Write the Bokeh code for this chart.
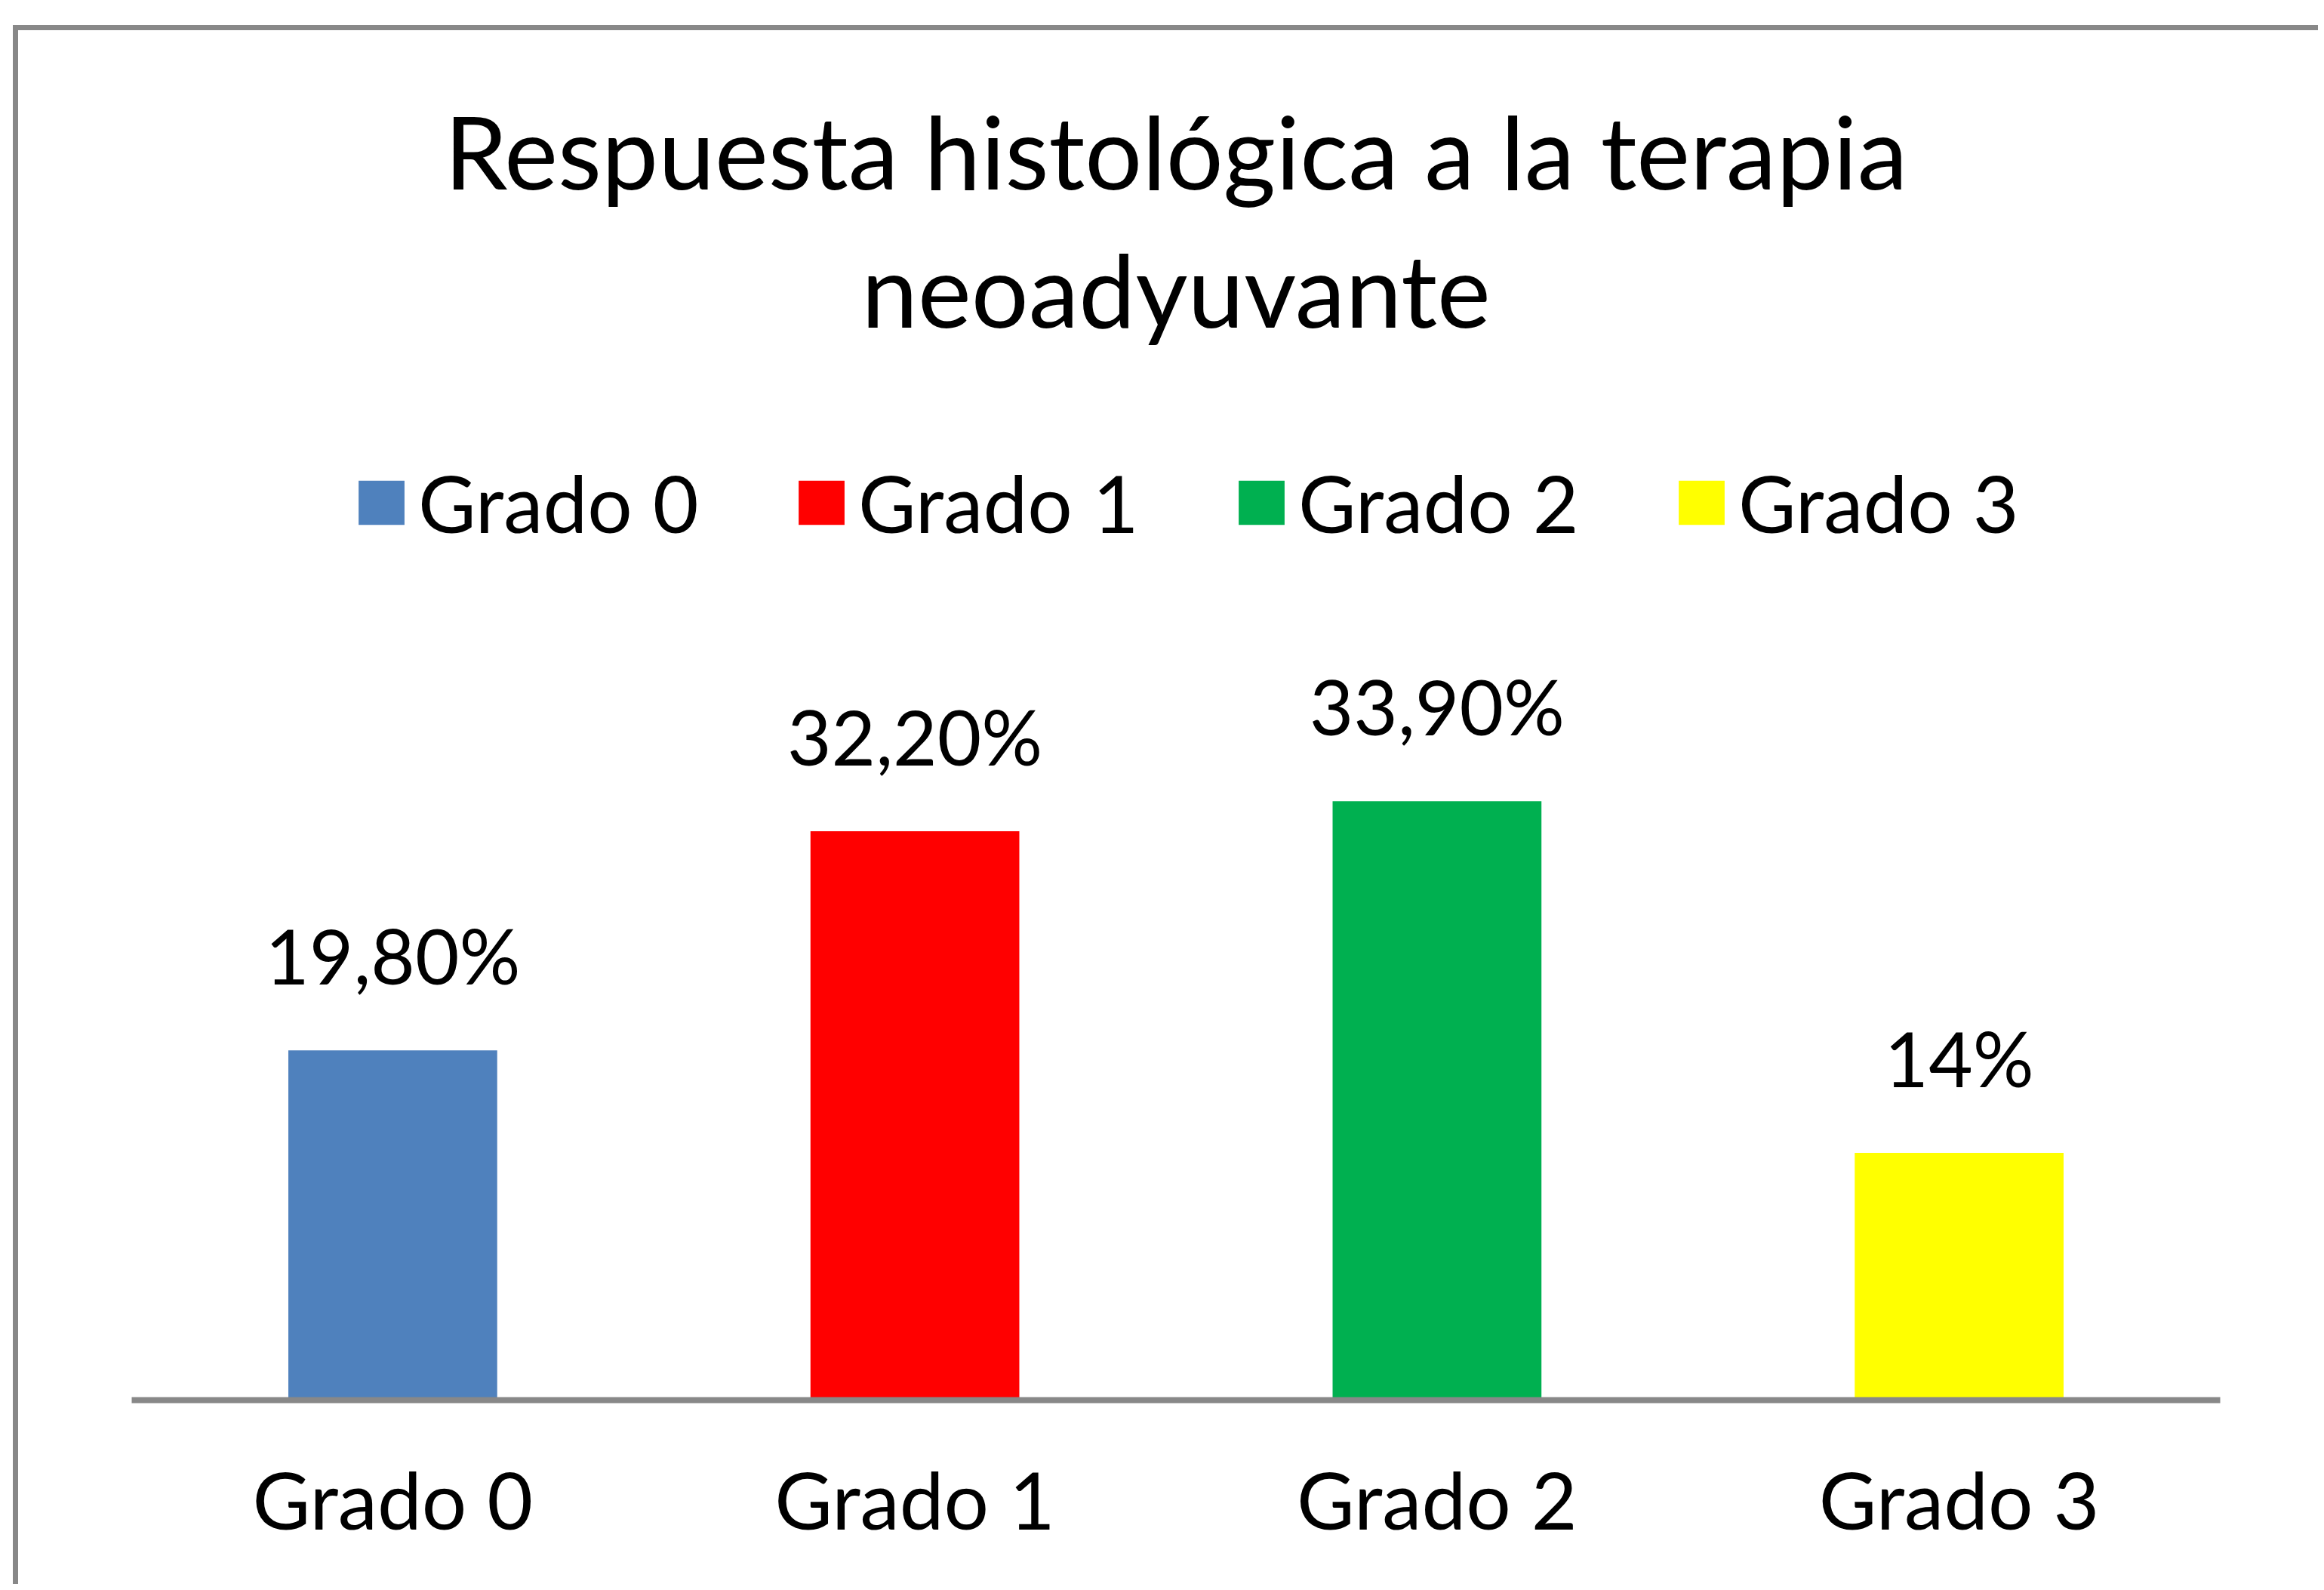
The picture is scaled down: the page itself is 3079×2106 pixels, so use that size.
from bokeh.plotting import figure
from bokeh.models import (ColumnDataSource, LabelSet, Legend, LegendItem,
                          Range1d, FactorRange, Title)
from bokeh.core.properties import value
from bokeh.embed import file_html
from bokeh.resources import INLINE

# ---- data ----
categories = ["Grado 0", "Grado 1", "Grado 2", "Grado 3"]
values = [19.8, 32.2, 33.9, 14.0]
value_labels = ["19,80%", "32,20%", "33,90%", "14%"]
colors = ["#4F81BD", "#FF0000", "#00B050", "#FFFF00"]
title_line1 = "Respuesta histológica a la terapia"
title_line2 = "neoadyuvante"

FONT = "Lato"
TXT = "#000000"
GRAY = "#888888"

W, H = 3054, 2065
MB_L, MB_T = 150, 440
FRAME_W, FRAME_H = 2767, 1374
MB_R = W - MB_L - FRAME_W
MB_B = H - MB_T - FRAME_H
PX_PER_UNIT = 23.4

p = figure(
    x_range=FactorRange(*categories, range_padding=0),
    y_range=Range1d(0, FRAME_H / PX_PER_UNIT),
    width=W, height=H,
    output_backend="svg", toolbar_location=None,
    y_axis_location=None, title=None,
    min_border_left=MB_L, min_border_right=MB_R,
    min_border_top=MB_T, min_border_bottom=MB_B,
)
p.styles = {"border-top": f"7px solid {GRAY}", "border-left": f"7px solid {GRAY}"}
p.margin = (33, 0, 0, 17)

p.outline_line_color = None
p.xgrid.visible = False
p.ygrid.visible = False
p.background_fill_color = "white"
p.border_fill_color = "white"

src = ColumnDataSource(dict(cat=categories, val=values, lab=value_labels, color=colors))
r = p.vbar(x="cat", top="val", width=0.4, source=src,
           fill_color="color", line_color=None)

labels = LabelSet(x="cat", y="val", text="lab", source=src,
                  text_align="center", text_baseline="alphabetic",
                  y_offset=87, text_font=value(FONT), text_font_size=value("101px"),
                  text_color=value(TXT))
p.add_layout(labels)

# axis
p.xaxis.axis_line_color = GRAY
p.xaxis.axis_line_width = 8
p.xaxis.major_tick_line_color = None
p.xaxis.minor_tick_line_color = None
p.xaxis.major_label_text_font = FONT
p.xaxis.major_label_text_font_size = "105px"
p.xaxis.major_label_text_font_style = "normal"
p.xaxis.major_label_text_color = TXT
p.xaxis.major_label_text_alpha = 1.0
p.xaxis.major_label_standoff = 61

# legend
items = [LegendItem(label=c, renderers=[r], index=i) for i, c in enumerate(categories)]
legend = Legend(items=items, orientation="horizontal", location=(293, 1126),
                glyph_width=76, glyph_height=73, label_standoff=11,
                label_width=496, spacing=0, padding=0, margin=0,
                border_line_color=None, background_fill_alpha=0,
                label_text_font=FONT, label_text_font_size="105px",
                label_text_color=TXT)
p.add_layout(legend, "center")

# title (two lines; later additions sit further from the frame)
t2 = Title(text=title_line2, align="center", text_font=FONT, standoff=36,
           text_font_size="134px", text_font_style="normal", text_color=TXT)
t1 = Title(text=title_line1, align="center", text_font=FONT, standoff=3,
           text_font_size="134px", text_font_style="normal", text_color=TXT)
p.add_layout(t2, "above")
p.add_layout(t1, "above")

open("out.html", "w").write(file_html(p, INLINE))
